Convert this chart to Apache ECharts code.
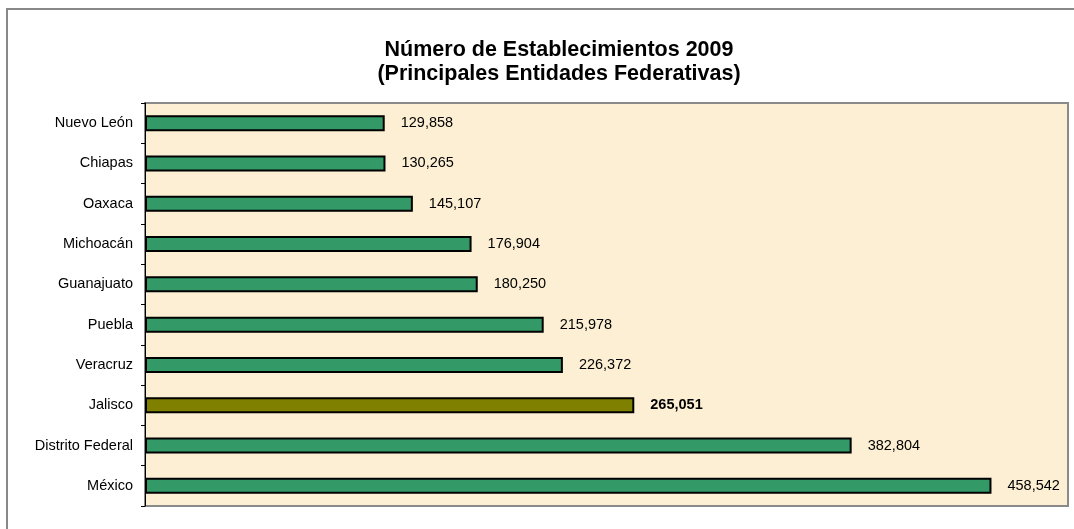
<!DOCTYPE html>
<html>
<head>
<meta charset="utf-8">
<script src="https://cdn.jsdelivr.net/npm/echarts@6/dist/echarts.min.js"></script>
<style>
    html, body { margin: 0; padding: 0; background: #fff; }
    #main { width: 1074px; height: 529px; }
</style>
</head>
<body>
<div id="main"></div>
<script>
// datos
var estados = ['Nuevo León', 'Chiapas', 'Oaxaca', 'Michoacán', 'Guanajuato', 'Puebla', 'Veracruz', 'Jalisco', 'Distrito Federal', 'México'];
var establecimientos = [129858, 130265, 145107, 176904, 180250, 215978, 226372, 265051, 382804, 458542];
var destacado = 'Jalisco';

var verde = '#339966';
var olivo = '#808000';

var myChart = echarts.init(document.getElementById('main'));

var barData = estados.map(function (n, i) {
    var esJal = n === destacado;
    return {
        value: establecimientos[i],
        itemStyle: { color: esJal ? olivo : verde },
        label: { fontWeight: esJal ? 'bold' : 'normal' }
    };
});

var option = {
    animation: false,
    textStyle: { fontFamily: 'Liberation Sans, Arial, sans-serif' },
    title: {
        text: 'Número de Establecimientos 2009\n(Principales Entidades Federativas)',
        left: 554,
        top: 33,
        textAlign: 'center',
        textStyle: {
            fontSize: 21.5,
            fontWeight: 'bold',
            color: '#000',
            lineHeight: 24,
            fontFamily: 'Liberation Sans, Arial, sans-serif'
        }
    },
    graphic: [
        {
            type: 'rect',
            shape: { x: 7, y: 9, width: 1090, height: 540 },
            style: { fill: 'none', stroke: '#888', lineWidth: 2 },
            silent: true
        }
    ],
    grid: {
        left: 145,
        top: 103,
        width: 923,
        height: 403,
        show: true,
        backgroundColor: '#fcefd3',
        borderColor: '#8a8a8a',
        borderWidth: 2
    },
    xAxis: {
        type: 'value',
        min: 0,
        max: 500000,
        show: false
    },
    yAxis: {
        type: 'category',
        data: estados,
        inverse: true,
        axisLine: { show: true, lineStyle: { color: '#000', width: 1 } },
        axisTick: { show: true, length: 4, lineStyle: { color: '#000' } },
        axisLabel: { color: '#000', fontSize: 14.5, margin: 12 }
    },
    series: [
        {
            type: 'bar',
            data: barData,
            barWidth: 16,
            itemStyle: { borderColor: '#000', borderWidth: 2 },
            label: {
                show: true,
                position: 'right',
                distance: 16,
                color: '#000',
                fontSize: 14.5,
                formatter: function (p) {
                    return p.value.toLocaleString('en-US');
                }
            }
        }
    ]
};

myChart.setOption(option);
</script>
</body>
</html>
